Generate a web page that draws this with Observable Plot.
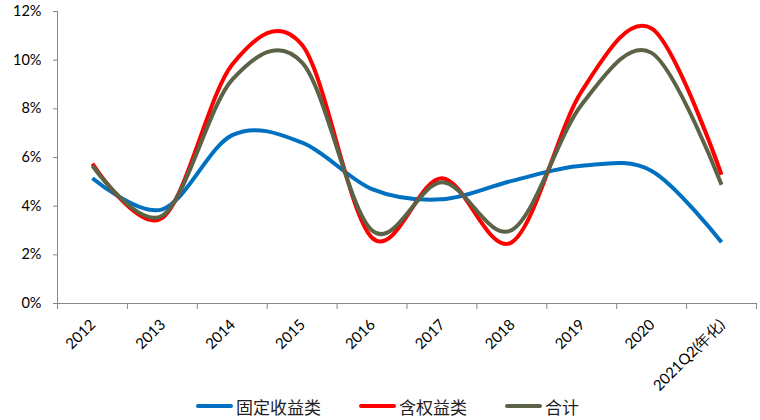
<!DOCTYPE html>
<html>
<head>
<meta charset="utf-8">
<script src="https://cdn.jsdelivr.net/npm/d3@7"></script>
<script src="https://cdn.jsdelivr.net/npm/@observablehq/plot@0.6"></script>
<style>
  html, body { margin: 0; padding: 0; background: #fff; }
  #wrap { position: relative; width: 760px; height: 420px; font-family: Lato, "Noto Sans", sans-serif; }
  #wrap svg { overflow: visible; }
  #legend { position: absolute; top: 395px; left: 196px; height: 22px; display: flex; align-items: center;
            font-family: "Noto Sans CJK SC", sans-serif; font-size: 17px; color: #222; white-space: nowrap; }
  .item { display: flex; align-items: center; margin-right: 38px; }
  .sw { width: 37px; height: 4.5px; border-radius: 2px; margin-right: 3px; }
</style>
</head>
<body>
<div id="wrap"></div>
<script>
const categories = ["2012", "2013", "2014", "2015", "2016", "2017", "2018", "2019", "2020", "2021Q2(年化)"];
const seriesNames = ["固定收益类", "含权益类", "合计"];
const seriesColors = ["#0070C0", "#FF0000", "#5B6347"];
const fixedIncome = [5.15, 3.87, 6.92, 6.61, 4.70, 4.28, 5.04, 5.66, 5.45, 2.52];
const equity = [5.75, 3.52, 9.82, 10.62, 2.70, 5.15, 2.52, 8.73, 11.30, 5.29];
const total = [5.66, 3.61, 9.20, 9.90, 3.00, 4.98, 3.02, 8.18, 10.30, 4.88];
const yTicks = [0, 2, 4, 6, 8, 10, 12];

const seriesValues = [fixedIncome, equity, total];
const rows = seriesValues.flatMap((vals, s) =>
  vals.map((v, i) => ({series: seriesNames[s], i, v})));

const gray = "#868686";
const bounds = d3.range(-0.5, categories.length, 1);

const plot = Plot.plot({
  width: 760,
  height: 395,
  marginLeft: 57,
  marginRight: 4,
  marginTop: 11,
  marginBottom: 92,
  style: {fontFamily: "Lato, 'Noto Sans', sans-serif", background: "#fff"},
  x: {type: "linear", domain: [-0.5, categories.length - 0.5]},
  y: {domain: [0, 12]},
  color: {domain: seriesNames, range: seriesColors},
  marks: [
    Plot.axisY({ticks: yTicks, tickFormat: d => d + "%", tickSize: 4, tickPadding: 12,
                stroke: gray, fill: "#000", fontSize: 14.5, label: null}),
    Plot.axisX({ticks: bounds, tickFormat: () => "", tickSize: 6, stroke: gray, label: null}),
    Plot.ruleX([-0.5], {stroke: gray, strokeWidth: 1}),
    Plot.ruleY([0], {stroke: gray, strokeWidth: 1}),
    Plot.text(categories, {x: (d, i) => i, frameAnchor: "bottom", rotate: -45, textAnchor: "end",
                           dx: 4, dy: 22, fontSize: 15, fill: "#000"}),
    Plot.line(rows, {x: "i", y: "v", z: "series", stroke: "series", strokeWidth: 4,
                     curve: "cardinal", strokeLinecap: "butt"})
  ]
});
document.getElementById("wrap").appendChild(plot);

const legend = document.createElement("div");
legend.id = "legend";
seriesNames.forEach((name, k) => {
  const item = document.createElement("div");
  item.className = "item";
  const sw = document.createElement("span");
  sw.className = "sw";
  sw.style.background = seriesColors[k];
  const t = document.createElement("span");
  t.textContent = name;
  item.appendChild(sw);
  item.appendChild(t);
  legend.appendChild(item);
});
document.getElementById("wrap").appendChild(legend);
</script>
</body>
</html>
